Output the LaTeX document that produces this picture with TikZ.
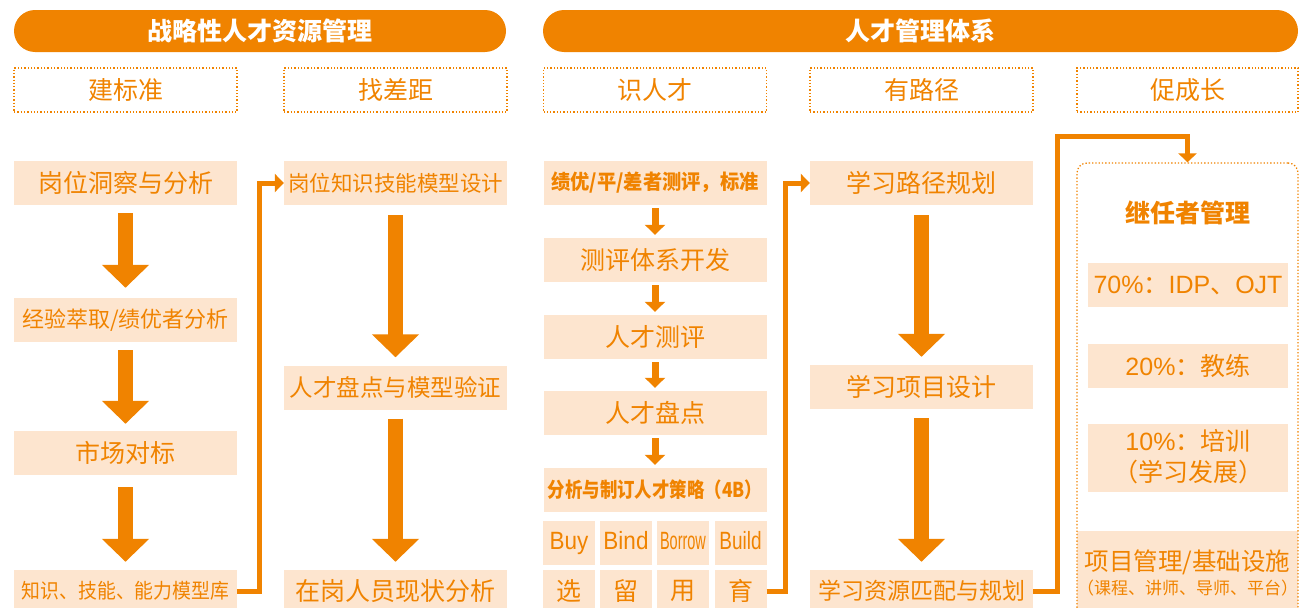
\documentclass[tikz,border=0pt]{standalone}
\usepackage{fontspec}
\setmainfont{Noto Sans CJK SC}
\newfontfamily\lat{Liberation Sans}
\usetikzlibrary{arrows.meta}
\definecolor{org}{HTML}{F08300}
\definecolor{pch}{HTML}{FDE5CF}
\newcommand\fsz[1]{\fontsize{#1}{#1}\selectfont}
\begin{document}
\begin{tikzpicture}[x=1pt,y=-1pt,
 bar/.style={fill=org, rounded corners=21pt, minimum height=42pt, text=white, font=\fsz{25}\bfseries, inner sep=0pt},
 hdr/.style={draw=org, dotted, line width=1.3pt, minimum height=44pt, minimum width=223pt, text=org, font=\fsz{25}, inner sep=0pt},
 box/.style={fill=pch, minimum height=44pt, minimum width=223pt, text=org, inner sep=0pt, font=\fsz{25}},
 sbox/.style={fill=pch, minimum width=52pt, minimum height=44pt, text=org, inner sep=0pt, font=\fsz{25}},
 txt/.style={text=org, inner sep=0pt},
 big/.style={draw=org, line width=15pt, -{Triangle[width=46pt,length=23pt]}},
 sml/.style={draw=org, line width=7pt, -{Triangle[width=20pt,length=10pt]}},
 conn/.style={draw=org, line width=5pt, -{Triangle[width=18pt,length=9pt]}},
]
\useasboundingbox (0,0) rectangle (1302,608);
\clip (0,0) rectangle (1302,608);
% top bars
\node[bar, minimum width=492pt] (b1) at (260,31) {战略性人才资源管理};
\node[bar, minimum width=755pt] (b2) at (920.5,31) {人才管理体系};
% headers
\node[hdr] (h1) at (125.5,90) {建标准};
\node[hdr] (h2) at (395.5,90) {找差距};
\node[hdr] (h3) at (655,90) {识人才};
\node[hdr] (h4) at (921.5,90) {有路径};
\node[hdr, minimum width=221pt] (h5) at (1187.5,90) {促成长};
% column 1
\node[box] (a1) at (125.5,183) {岗位洞察与分析};
\node[box, font=\fsz{22}] (a2) at (125.5,320) {经验萃取/绩优者分析};
\node[box] (a3) at (125.5,453) {市场对标};
\node[box, minimum height=42pt, font=\fsz{20.5}] (a4) at (125.5,591) {\scalebox{0.92}[1]{知识、技能、能力模型库}};
% column 2
\node[box, font=\fsz{21.5}] (c1) at (395.5,183) {岗位知识技能模型设计};
\node[box, font=\fsz{23.5}] (c2) at (395.5,387.5) {人才盘点与模型验证};
\node[box, minimum height=42pt] (c3) at (395.5,591) {在岗人员现状分析};
% column 3
\node[box, font=\fsz{20.5}\bfseries] (d1) at (655,183) {\scalebox{0.94}[1]{绩优/平/差者测评，标准}};
\node[box] (d2) at (655,260) {测评体系开发};
\node[box] (d3) at (655,337) {人才测评};
\node[box] (d4) at (655,413) {人才盘点};
\node[box, font=\fsz{20.5}\bfseries] (d5) at (655,490) {\scalebox{0.85}[1]{分析与制订人才策略（4B）}};
\node[sbox, font=\fsz{25}\lat] (e1) at (569,543) {\scalebox{0.9}[1]{Buy}\vphantom{Bdy}};
\node[sbox, font=\fsz{25}\lat] (e2) at (626,543) {\scalebox{0.9}[1]{Bind}\vphantom{Bdy}};
\node[sbox, font=\fsz{25}\lat] (e3) at (683,543) {\scalebox{0.58}[1]{Borrow}\vphantom{Bdy}};
\node[sbox, font=\fsz{25}\lat] (e4) at (740.5,543) {\scalebox{0.76}[1]{Build}\vphantom{Bdy}};
\node[sbox, minimum height=42pt] (f1) at (569,591) {选};
\node[sbox, minimum height=42pt] (f2) at (626,591) {留};
\node[sbox, minimum height=42pt] (f3) at (683,591) {用};
\node[sbox, minimum height=42pt] (f4) at (740.5,591) {育};
% column 4
\node[box] (g1) at (921.5,183) {学习路径规划};
\node[box] (g2) at (921.5,387) {学习项目设计};
\node[box, minimum height=42pt, font=\fsz{23}] (g3) at (921.5,591) {学习资源匹配与规划};
% column 5
\node[fill=pch, minimum width=221pt, minimum height=87pt, inner sep=0pt] (pm) at (1187.5,574.5) {};
\node[draw=org, dotted, line width=1.3pt, rounded corners=10pt, minimum width=221pt, minimum height=455pt, inner sep=0pt] (succ) at (1187.5,390.5) {};
\node[txt, font=\fsz{25}\bfseries] (st) at (1187.5,213) {继任者管理};
\node[box, minimum width=200pt, font=\fsz{25}] (s1) at (1188,285) {{\lat 70\%}：{\lat IDP}、{\lat OJT}};
\node[box, minimum width=200pt, font=\fsz{25}] (s2) at (1188,366) {{\lat 20\%}：教练};
\node[box, minimum width=200pt, minimum height=68pt] (s3) at (1188,457.5) {};
\node[txt, font=\fsz{25}] (s3a) at (1188,441) {{\lat 10\%}：培训};
\node[txt, font=\fsz{25}] (s3b) at (1188,472) {（学习发展）};
\node[txt, font=\fsz{24.5}] (pm1) at (1187.5,562) {项目管理/基础设施};
\node[txt, font=\fsz{17}] (pm2) at (1187.5,588) {（课程、讲师、导师、平台）};
% big arrows
\draw[big] ([yshift=-8pt]a1.south) -- ([yshift=10pt]a2.north);
\draw[big] ([yshift=-8pt]a2.south) -- ([yshift=7pt]a3.north);
\draw[big] ([yshift=-12pt]a3.south) -- ([yshift=8pt]a4.north);
\draw[big] ([yshift=-10pt]c1.south) -- ([yshift=8pt]c2.north);
\draw[big] ([yshift=-9pt]c2.south) -- ([yshift=8pt]c3.north);
\draw[big] ([yshift=-10pt]g1.south) -- ([yshift=8pt]g2.north);
\draw[big] ([yshift=-9pt]g2.south) -- ([yshift=8pt]g3.north);
% small arrows
\draw[sml] ([yshift=-3pt]d1.south) -- ([yshift=3pt]d2.north);
\draw[sml] ([yshift=-3pt]d2.south) -- ([yshift=3pt]d3.north);
\draw[sml] ([yshift=-3pt]d3.south) -- ([yshift=3pt]d4.north);
\draw[sml] ([yshift=-3pt]d4.south) -- ([yshift=3pt]d5.north);
% connectors
\draw[conn] (a4.east) -- ++(22,0) |- (c1.west);
\draw[conn] (f4.east) -- ++(19,0) |- (g1.west);
\draw[conn] (g3.east) -- ++(24,0) |- ([yshift=26pt]succ.north) -- (succ.north);
\end{tikzpicture}
\end{document}
